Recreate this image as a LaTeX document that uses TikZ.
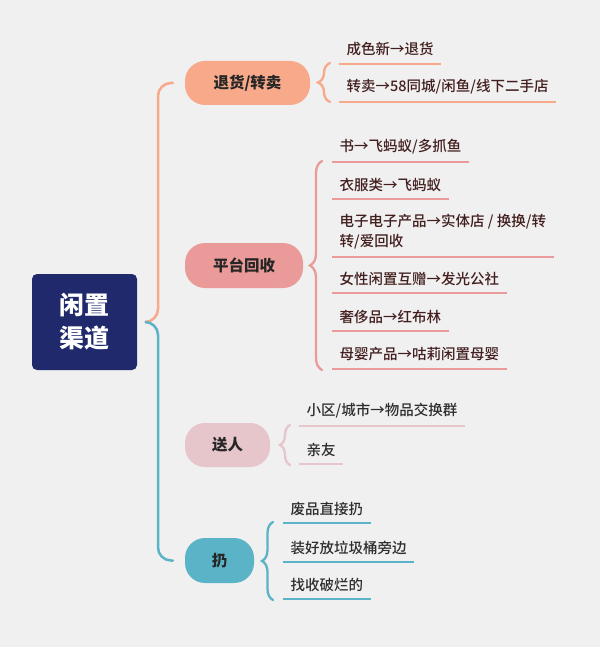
\documentclass[tikz,border=0pt]{standalone}
\usepackage{fontspec}
\setmainfont{Noto Sans CJK SC}
\newfontfamily\leaffont{Noto Sans CJK SC Medium}
\usetikzlibrary{positioning,decorations.pathreplacing}

\definecolor{bgcol}{RGB}{240,240,240}
\definecolor{rootblue}{RGB}{31,41,108}
\definecolor{corange}{RGB}{247,169,138}
\definecolor{cpink}{RGB}{234,154,152}
\definecolor{crose}{RGB}{230,197,203}
\definecolor{cteal}{RGB}{91,179,199}
\definecolor{leafred}{RGB}{66,30,30}
\definecolor{leafgray}{RGB}{45,45,48}

\tikzset{
  rootbox/.style={fill=rootblue,rounded corners=5pt,text=white,align=center,
    minimum width=105pt,minimum height=96pt,inner sep=0pt,
    font=\fontsize{25}{33}\selectfont\bfseries},
  branch/.style={fill=#1,rounded corners=20pt,inner sep=0pt,text=black!85,
    font=\fontsize{15.5}{18}\selectfont\bfseries},
  leaf/.style={anchor=south west,inner xsep=7.5pt,inner ysep=7.5pt,align=left,
    font=\fontsize{14.5}{20}\selectfont\leaffont,
    append after command={(\tikzlastnode.south west) edge[draw=#1,line width=2.2pt]
      (\tikzlastnode.south east)}},
  branchline/.style={draw=#1,line width=2.5pt,rounded corners=13pt,line cap=round},
  bracket/.style={draw=#1,line width=2.3pt,line cap=round,decorate,
    decoration={brace,amplitude=12pt}}
}

\begin{document}
\begin{tikzpicture}[x=1pt,y=-1pt]
  % background
  \fill[bgcol] (0,0) rectangle (600,647);
  \useasboundingbox (0,0) rectangle (600,647);

  % root box
  \node[rootbox] (root) at (84.5,322) {闲置\\渠道};

  % four branches
  \node[branch=corange,minimum width=125pt,minimum height=44pt] (ret) at (247.5,83) {退货/转卖};
  \node[branch=cpink,minimum width=118pt,minimum height=45pt] (plat) at (244,265.5) {平台回收};
  \node[branch=crose,minimum width=85pt,minimum height=44pt] (give) at (227.5,445) {送人};
  \node[branch=cteal,minimum width=69pt,minimum height=45pt] (toss) at (219.5,560.5) {扔};

  % spine
  \coordinate (fork) at (158,322);
  \draw[branchline=corange,shorten <=8pt,shorten >=12pt] (root.east) -- (fork) |- (ret.west);
  \draw[branchline=cteal,shorten <=8pt,shorten >=12pt] (root.east) -- (fork) |- (toss.west);

  % braces
  \draw[bracket=corange] (330,102) -- (330,63);
  \draw[bracket=cpink] (322,370) -- (322,161);
  \draw[bracket=crose,decoration={amplitude=10pt}] (290,465) -- (290,425);
  \draw[bracket=cteal,decoration={amplitude=11pt}] (273,600) -- (273,522);

  % leaves
  \begin{scope}[text=leafred]
    \node[leaf=corange] (r1) at (339,64) {成色新→退货};
    \node[leaf=corange] (r2) at (339,102) {转卖→58同城/闲鱼/线下二手店};

    \node[leaf=cpink] (p1) at (332,162) {书→飞蚂蚁/多抓鱼};
    \node[leaf=cpink] (p2) at (332,199) {衣服类→飞蚂蚁};
    \node[leaf=cpink] (p3) at (332,257) {电子电子产品→实体店 / 换换/转\\转/爱回收};
    \node[leaf=cpink] (p4) at (332,293) {女性闲置互赠→发光公社};
    \node[leaf=cpink] (p5) at (332,331) {奢侈品→红布林};
    \node[leaf=cpink] (p6) at (332,369) {母婴产品→咕莉闲置母婴};
  \end{scope}

  \begin{scope}[text=leafgray]
    \node[leaf=crose] (g1) at (299,426) {小区/城市→物品交换群};
    \node[leaf=crose] (g2) at (299,464) {亲友};

    \node[leaf=cteal] (t1) at (283,523) {废品直接扔};
    \node[leaf=cteal] (t2) at (283,562) {装好放垃圾桶旁边};
    \node[leaf=cteal] (t3) at (283,599) {找收破烂的};
  \end{scope}
\end{tikzpicture}
\end{document}
